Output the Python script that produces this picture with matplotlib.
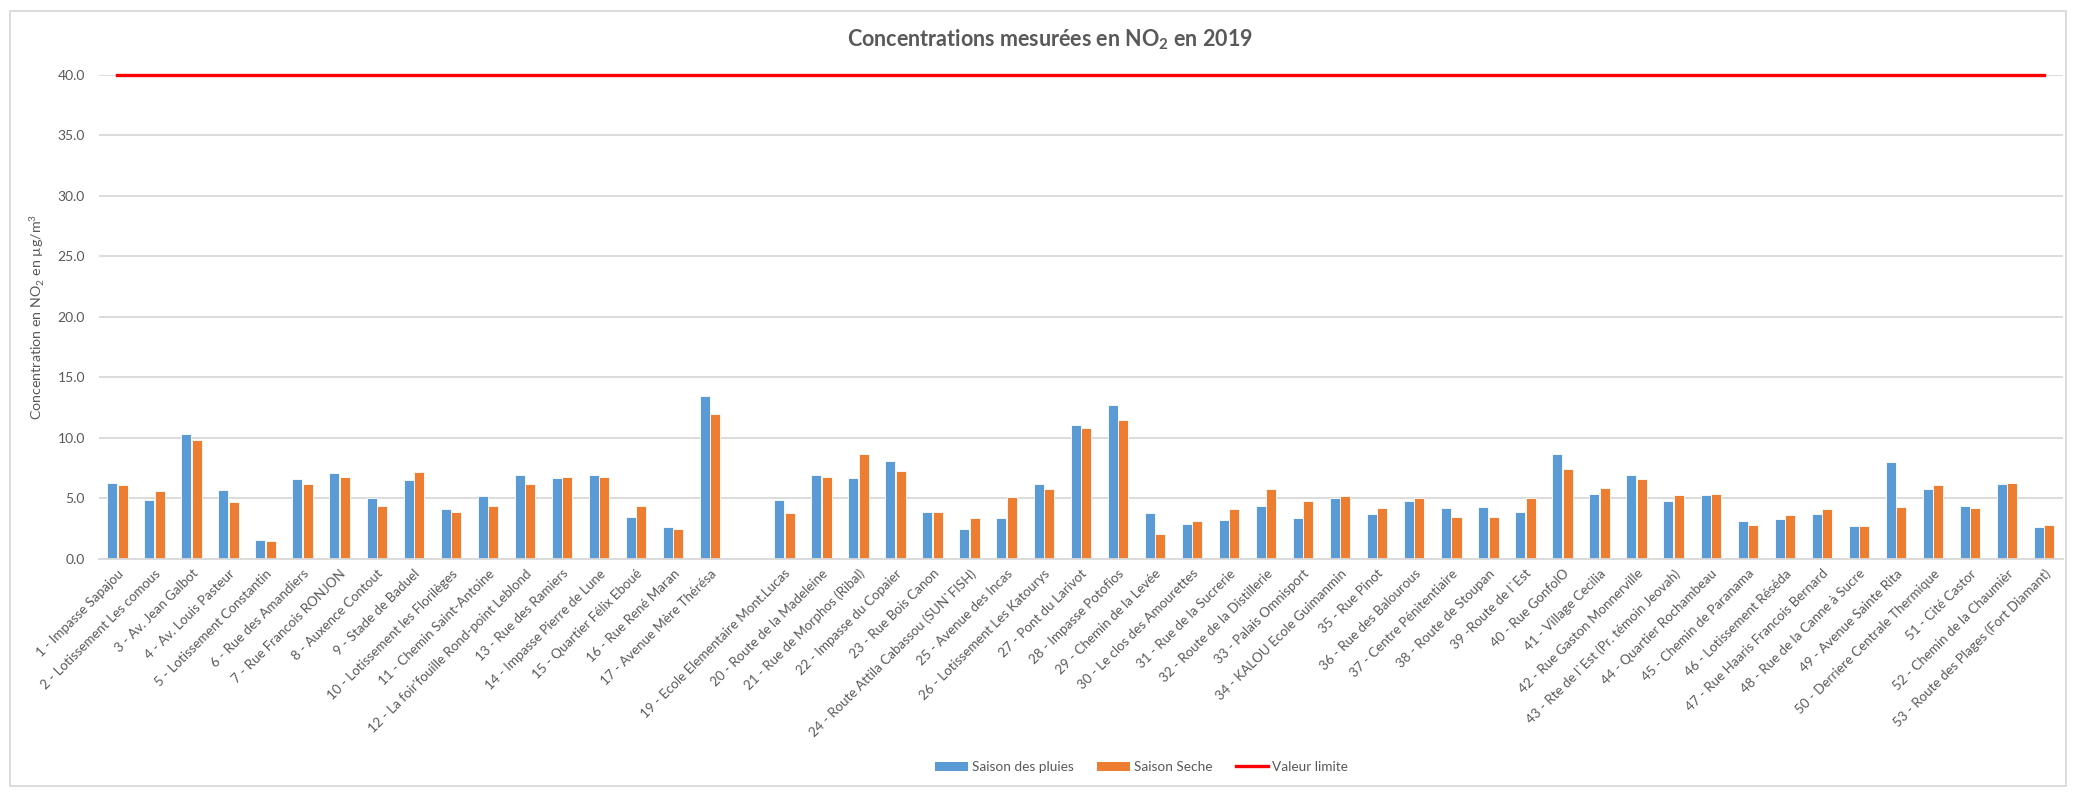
import matplotlib
matplotlib.use("Agg")
import matplotlib.pyplot as plt
from matplotlib.patches import Patch, Rectangle
from matplotlib.lines import Line2D
import numpy as np

plt.rcParams['font.family'] = ['Lato', 'DejaVu Sans']
plt.rcParams['mathtext.fontset'] = 'custom'
plt.rcParams['mathtext.rm'] = 'Lato'
plt.rcParams['mathtext.bf'] = 'Lato:bold'

# sites de mesure (le 18 est vide dans la source)
sites = [
    "1 - Impasse Sapajou", "2 - Lotissement Les comous", "3 - Av. Jean Galbot",
    "4 - Av. Louis Pasteur", "5 - Lotissement Constantin", "6 - Rue des Amandiers",
    "7 - Rue Francois RONJON", "8 - Auxence Contout", "9 - Stade de Baduel",
    "10 - Lotissement les Florilèges", "11 - Chemin Saint-Antoine",
    "12 - La foir'fouille Rond-point Leblond", "13 - Rue des Ramiers",
    "14 - Impasse Pierre de Lune", "15 - Quartier Félix Eboué", "16 - Rue René Maran",
    "17 - Avenue Mère Thérésa", "",
    "19 - Ecole Elementaire Mont.Lucas", "20 - Route de la Madeleine",
    "21 - Rue de Morphos (Ribal)", "22 - Impasse du Copaier", "23 - Rue Bois Canon",
    "24 - Route Attila Cabassou (SUN`FISH)", "25 - Avenue des Incas",
    "26 - Lotissement Les Katourys", "27 - Pont du Larivot", "28 - Impasse Potofios",
    "29 - Chemin de la Levée", "30 - Le clos des Amourettes", "31 - Rue de la Sucrerie",
    "32 - Route de la Distillerie", "33 - Palais Omnisport", "34 - KALOU Ecole Guimanmin",
    "35 - Rue Pinot", "36 - Rue des Balourous", "37 - Centre Pénitentiaire",
    "38 - Route de Stoupan", "39 -Route de l`Est", "40 - Rue GonfolO",
    "41 - Village Cecilia", "42 - Rue Gaston Monnerville",
    "43 - Rte de l`Est (Pr. témoin Jeovah)", "44 - Quartier Rochambeau",
    "45 - Chemin de Paranama", "46 - Lotissement Réséda",
    "47 - Rue Haaris Francois Bernard", "48 - Rue de la Canne à Sucre",
    "49 - Avenue Sainte Rita", "50 - Derriere Centrale Thermique", "51 - Cité Castor",
    "52 - Chemin de la Chaumièr", "53 - Route des Plages (Fort Diamant)",
]

pluies = [6.3, 4.9, 10.3, 5.7, 1.6, 6.6, 7.1, 5.0, 6.5, 4.1, 5.2, 6.9, 6.7, 6.9,
          3.5, 2.6, 13.5, np.nan,
          4.9, 6.9, 6.7, 8.1, 3.9, 2.5, 3.4, 6.2, 11.1, 12.7, 3.8, 2.9, 3.2, 4.4,
          3.4, 5.0, 3.7, 4.8, 4.2, 4.3, 3.9, 8.7, 5.4, 6.9, 4.8, 5.3, 3.1, 3.3,
          3.7, 2.7, 8.0, 5.8, 4.4, 6.2, 2.6]
seche = [6.1, 5.6, 9.8, 4.7, 1.5, 6.2, 6.8, 4.4, 7.2, 3.9, 4.4, 6.2, 6.8, 6.8,
         4.4, 2.5, 12.0, np.nan,
         3.8, 6.8, 8.7, 7.3, 3.9, 3.4, 5.1, 5.8, 10.8, 11.5, 2.1, 3.1, 4.1, 5.8,
         4.8, 5.2, 4.2, 5.0, 3.5, 3.5, 5.0, 7.4, 5.9, 6.6, 5.3, 5.4, 2.8, 3.6,
         4.1, 2.7, 4.3, 6.1, 4.2, 6.3, 2.8]
limite = 40.0

bleu = '#5B9BD5'
orange = '#ED7D31'
gris = '#595959'
grille = '#D9D9D9'

fig = plt.figure(figsize=(20.76, 7.94), dpi=100)
ax = fig.add_axes([0.0476, 0.296, 0.946, 0.610])

x = np.arange(len(sites))
w = 0.27
ax.bar(x - 0.14, pluies, w, color=bleu, edgecolor='white', linewidth=0.6, zorder=2)
ax.bar(x + 0.14, seche, w, color=orange, edgecolor='white', linewidth=0.6, zorder=2)
ax.plot([x[0], x[-1]], [limite, limite], color='#FF0000', linewidth=2.4,
        zorder=3, clip_on=False)

ax.set_xlim(-0.5, len(sites) - 0.5)
ax.set_ylim(0, 40)
ax.set_yticks(np.arange(0, 41, 5))
ax.set_yticklabels(['%.1f' % v for v in np.arange(0, 41, 5)])
ax.yaxis.grid(True, color=grille, linewidth=1.3, zorder=0)
ax.set_axisbelow(True)
for s in ['top', 'right', 'left']:
    ax.spines[s].set_visible(False)
ax.spines['bottom'].set_color(grille)
ax.spines['bottom'].set_linewidth(1.3)

ax.set_xticks(x)
ax.set_xticklabels(sites, rotation=45, ha='right', rotation_mode='anchor')
ax.tick_params(axis='x', length=0, pad=6, labelsize=9.6, labelcolor=gris)
ax.tick_params(axis='y', length=0, pad=10, labelsize=10, labelcolor=gris)

ax.set_ylabel(r'Concentration en NO$_2$ en µg/m$^3$', fontsize=10.3, color=gris,
              labelpad=8)

fig.text(0.506, 0.95, r'Concentrations mesurées en NO$_\mathbf{2}$ en 2019',
         ha='center', va='center', fontsize=15.5, fontweight='bold', color=gris)

handles = [Patch(facecolor=bleu, edgecolor='none'),
           Patch(facecolor=orange, edgecolor='none'),
           Line2D([], [], color='#FF0000', linewidth=2.4)]
leg = fig.legend(handles, ['Saison des pluies', 'Saison Seche', 'Valeur limite'],
                 loc='center', bbox_to_anchor=(0.55, 0.034), ncol=3, frameon=False,
                 fontsize=9.8, handlelength=2.4, handleheight=0.6,
                 handletextpad=0.3, columnspacing=1.7)
for t in leg.get_texts():
    t.set_color(gris)

# cadre du graphique
fig.patches.append(Rectangle((10 / 2076, 1 - 786 / 794), 2056 / 2076, 775 / 794,
                             transform=fig.transFigure, fill=False,
                             edgecolor=grille, linewidth=1.3))

fig.savefig('out.png', dpi=100)
